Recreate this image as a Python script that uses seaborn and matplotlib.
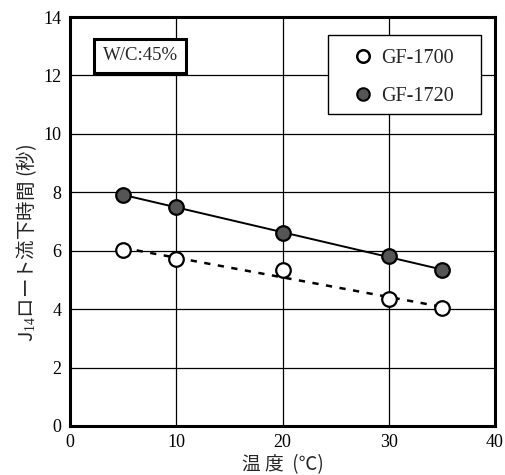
import numpy as np
import pandas as pd
import matplotlib
matplotlib.use("Agg")
import matplotlib.pyplot as plt
import seaborn as sns
from matplotlib.lines import Line2D
from matplotlib.patches import Rectangle

temps = [5, 10, 20, 30, 35]
gf1700 = [6.03, 5.71, 5.33, 4.34, 4.03]
gf1720 = [7.90, 7.50, 6.62, 5.82, 5.33]
series_names = ["GF-1700", "GF-1720"]
x_ticks = [0, 10, 20, 30, 40]
y_ticks = [0, 2, 4, 6, 8, 10, 12, 14]

sns.set_style("white")
plt.rcParams['font.family'] = ['Liberation Serif', 'Noto Sans CJK JP', 'DejaVu Sans']
plt.rcParams['mathtext.fontset'] = 'custom'
plt.rcParams['mathtext.rm'] = 'Liberation Serif'
plt.rcParams['mathtext.it'] = 'Liberation Serif'

df = pd.DataFrame({"temp": temps * 2,
                   "time": gf1700 + gf1720,
                   "series": [series_names[0]] * len(temps) + [series_names[1]] * len(temps)})

fig = plt.figure(figsize=(5.06, 4.75), dpi=100)
ax = fig.add_axes([70/506, 49/475, 425/506, 409/475])

d0 = df[df.series == series_names[0]]
d1 = df[df.series == series_names[1]]
sns.regplot(data=d1, x="temp", y="time", ci=None, scatter=False, truncate=True,
            line_kws=dict(color="black", lw=1.4, linestyle="-"), ax=ax)
sns.regplot(data=d0, x="temp", y="time", ci=None, scatter=False, truncate=True,
            line_kws=dict(color="black", lw=1.8, linestyle=(0, (2.5, 3))), ax=ax)
sns.scatterplot(data=d0, x="temp", y="time", marker="o", s=110, color="white",
                edgecolor="black", linewidth=1.6, ax=ax, zorder=5)
sns.scatterplot(data=d1, x="temp", y="time", marker="o", s=110, color="#555555",
                edgecolor="black", linewidth=1.6, ax=ax, zorder=5)

ax.set_xlim(0, 40)
ax.set_ylim(0, 14)
ax.set_xticks(x_ticks)
ax.set_yticks(y_ticks)
ax.grid(True, color="black", lw=0.9)
ax.set_axisbelow(True)
for s in ax.spines.values():
    s.set_visible(True)
    s.set_color("black")
    s.set_linewidth(2.2)
ax.tick_params(axis="both", length=0, labelsize=13, pad=6, colors="black")
ax.set_xlabel("温 度  (℃)", fontsize=13.5, family=['Noto Sans CJK JP', 'DejaVu Sans'], labelpad=2)
ax.set_ylabel("J$_{14}$ロート流下時間 (秒)", fontsize=14, family=['Noto Sans CJK JP', 'DejaVu Sans'])
ax.yaxis.set_label_coords(-0.072, 0.447)

# legend frame box
ax.add_patch(Rectangle((0.607, 0.763), 0.36, 0.193, transform=ax.transAxes,
                       fc="white", ec="black", lw=1.0, zorder=6))

handles = [Line2D([], [], marker="o", linestyle="none", markersize=9, markerfacecolor="white",
                  markeredgecolor="black", markeredgewidth=1.8),
           Line2D([], [], marker="o", linestyle="none", markersize=9, markerfacecolor="#555555",
                  markeredgecolor="black", markeredgewidth=1.5)]
leg = ax.legend(handles, series_names, loc="upper left", bbox_to_anchor=(0.666, 0.923),
                fontsize=14.5, frameon=False,
                handletextpad=0.4, borderpad=0, labelspacing=0.95, borderaxespad=0,
                handlelength=1.0)
leg.set_zorder(7)

ax.text(0.165, 0.905, "W/C:45%", transform=ax.transAxes, ha="center", va="center",
        fontsize=13.5, bbox=dict(boxstyle="square,pad=0.45", fc="white", ec="black", lw=2.2))

fig.savefig("out.png", dpi=100)
